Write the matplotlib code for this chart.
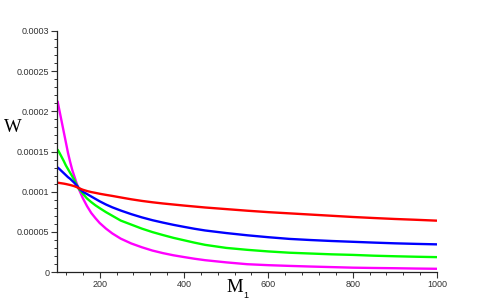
import matplotlib
matplotlib.use("Agg")
import matplotlib.pyplot as plt
from matplotlib.ticker import FixedLocator, MultipleLocator

M1 = [100, 105, 110, 115, 120, 125, 130, 135, 140, 145, 150, 160, 170, 180, 190, 200, 215, 230,
      250, 275, 300, 325, 350, 375, 400, 425, 450, 500, 550, 600, 650, 700, 750, 800, 850, 900,
      950, 1000]

W_red = [1.112e-4, 1.108e-4, 1.104e-4, 1.100e-4, 1.095e-4, 1.089e-4, 1.083e-4, 1.076e-4, 1.068e-4,
         1.058e-4, 1.045e-4, 1.024e-4, 1.008e-4, 9.95e-5, 9.85e-5, 9.74e-5, 9.60e-5, 9.47e-5,
         9.28e-5, 9.05e-5, 8.85e-5, 8.68e-5, 8.53e-5, 8.40e-5, 8.27e-5, 8.15e-5, 8.03e-5, 7.83e-5,
         7.63e-5, 7.45e-5, 7.30e-5, 7.15e-5, 7.00e-5, 6.85e-5, 6.72e-5, 6.60e-5, 6.50e-5, 6.39e-5]
W_blue = [1.303e-4, 1.280e-4, 1.255e-4, 1.230e-4, 1.205e-4, 1.180e-4, 1.160e-4, 1.135e-4, 1.110e-4,
          1.080e-4, 1.050e-4, 1.000e-4, 9.70e-5, 9.40e-5, 9.10e-5, 8.80e-5, 8.40e-5, 8.05e-5,
          7.65e-5, 7.20e-5, 6.80e-5, 6.45e-5, 6.15e-5, 5.87e-5, 5.62e-5, 5.38e-5, 5.17e-5, 4.85e-5,
          4.57e-5, 4.33e-5, 4.12e-5, 3.98e-5, 3.86e-5, 3.76e-5, 3.66e-5, 3.57e-5, 3.50e-5, 3.44e-5]
W_green = [1.527e-4, 1.480e-4, 1.430e-4, 1.380e-4, 1.325e-4, 1.280e-4, 1.235e-4, 1.190e-4, 1.145e-4,
           1.090e-4, 1.040e-4, 9.75e-5, 9.15e-5, 8.70e-5, 8.30e-5, 7.95e-5, 7.45e-5, 7.00e-5,
           6.40e-5, 5.90e-5, 5.40e-5, 4.97e-5, 4.60e-5, 4.25e-5, 3.95e-5, 3.65e-5, 3.38e-5, 3.00e-5,
           2.76e-5, 2.56e-5, 2.40e-5, 2.30e-5, 2.20e-5, 2.13e-5, 2.03e-5, 1.96e-5, 1.90e-5, 1.85e-5]
W_magenta = [2.13e-4, 2.00e-4, 1.87e-4, 1.74e-4, 1.61e-4, 1.48e-4, 1.37e-4, 1.27e-4, 1.19e-4,
             1.11e-4, 1.04e-4, 9.20e-5, 8.20e-5, 7.35e-5, 6.70e-5, 6.10e-5, 5.40e-5, 4.80e-5,
             4.15e-5, 3.55e-5, 3.08e-5, 2.67e-5, 2.35e-5, 2.08e-5, 1.86e-5, 1.65e-5, 1.47e-5, 1.20e-5,
             9.7e-6, 8.5e-6, 7.6e-6, 6.8e-6, 6.1e-6, 5.4e-6, 5.0e-6, 4.7e-6, 4.3e-6, 4.0e-6]

x_major = [200, 400, 600, 800, 1000]
x_labels = ["200", "400", "600", "800", "1000"]
y_major = [0, 0.00005, 0.0001, 0.00015, 0.0002, 0.00025, 0.0003]
y_labels = ["0", "0.00005", "0.0001", "0.00015", "0.0002", "0.00025", "0.0003"]

fig = plt.figure(figsize=(4.85, 3.02), dpi=100)
ax = fig.add_axes([57.5 / 485, 30 / 302, (437 - 57.5) / 485, (272 - 31) / 302])

for y, c in [(W_magenta, "#ff00ff"), (W_green, "#00ff00"), (W_blue, "#0000ff"), (W_red, "#ff0000")]:
    ax.plot(M1, y, color=c, lw=1.7, solid_capstyle="butt", solid_joinstyle="round")

ax.set_xlim(100, 1000)
ax.set_ylim(0, 0.0003)
for s in ["top", "right"]:
    ax.spines[s].set_visible(False)
for s in ["left", "bottom"]:
    ax.spines[s].set_linewidth(0.9)
    ax.spines[s].set_color("#222222")

ax.xaxis.set_major_locator(FixedLocator(x_major))
ax.set_xticklabels(x_labels)
ax.xaxis.set_minor_locator(FixedLocator([v for v in range(120, 1000, 40) if v not in x_major]))
ax.yaxis.set_major_locator(FixedLocator(y_major))
ax.set_yticklabels(y_labels)
ax.yaxis.set_minor_locator(MultipleLocator(0.00001))

ax.tick_params(axis="both", which="major", length=4.5, width=0.8, color="#333333",
               labelsize=6.5, labelcolor="#333333", pad=1.5)
ax.tick_params(axis="both", which="minor", length=2.5, width=0.7, color="#333333")
for lab in ax.get_xticklabels() + ax.get_yticklabels():
    lab.set_family("Liberation Sans")

fig.text(12.5 / 485, 1 - 128 / 302, "W", family="Liberation Serif", fontsize=13.5,
         ha="center", va="center", color="black")
fig.text(234.7 / 485, 1 - 291.7 / 302, "M", family="Liberation Serif", fontsize=13.5,
         ha="center", va="baseline", color="black")
fig.text(245.5 / 485, 1 - 295 / 302, "1", family="Liberation Sans", fontsize=6.5,
         ha="center", va="center", color="black")

fig.savefig("out.png", dpi=100)
